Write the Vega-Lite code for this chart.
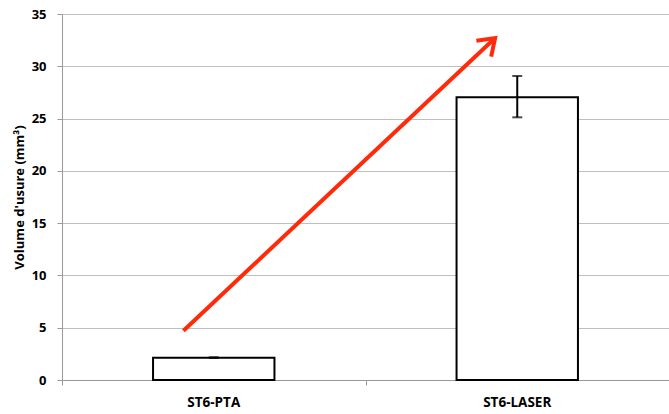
{
  "$schema": "https://vega.github.io/schema/vega-lite/v6.json",
  "width": 607,
  "height": 366,
  "autosize": {"type": "none"},
  "padding": {"left": 62, "top": 14, "right": 0, "bottom": 34},
  "background": "white",
  "config": {
    "view": {"stroke": null},
    "font": "Open Sans"
  },
  "datasets": {
    "bars": [
      {"group": "ST6-PTA", "value": 2.12, "low": 2.12, "high": 2.17},
      {"group": "ST6-LASER", "value": 27.03, "low": 25.12, "high": 29.07}
    ],
    "arrow": [
      {"pos": 0.40, "value": 4.71, "part": "tail"},
      {"pos": 1.427, "value": 32.7, "part": "head"}
    ]
  },
  "resolve": {"scale": {"x": "independent"}, "axis": {"x": "independent"}},
  "layer": [
    {
      "data": {"name": "bars"},
      "layer": [
        {
          "mark": {"type": "bar", "fill": "white", "stroke": "black", "strokeWidth": 2},
          "encoding": {
            "x": {
              "field": "group", "type": "nominal", "sort": null,
              "scale": {"paddingInner": 0.6, "paddingOuter": 0.3},
              "axis": {"title": null, "ticks": false, "domain": false, "labelAngle": 0, "labelFontWeight": "bold", "labelFontSize": 13.5, "labelColor": "black", "labelPadding": 15, "grid": false}
            },
            "y": {
              "field": "value", "type": "quantitative",
              "title": "Volume d'usure (mm³)",
              "scale": {"domain": [0, 35], "nice": false},
              "axis": {
                "values": [0, 5, 10, 15, 20, 25, 30, 35],
                "titleFontSize": 13, "titleFontWeight": "bold", "titleColor": "black", "titlePadding": 5,
                "labelFontSize": 13, "labelFontWeight": "bold", "labelColor": "black", "labelPadding": 11,
                "tickSize": 5, "tickColor": "#999999", "domainColor": "#999999",
                "gridColor": "#bfbfbf", "gridWidth": 1
              }
            }
          }
        },
        {
          "mark": {"type": "errorbar", "color": "black", "thickness": 2, "ticks": {"size": 10}},
          "encoding": {
            "x": {"field": "group", "type": "nominal", "sort": null},
            "y": {"field": "low", "type": "quantitative", "title": "Volume d'usure (mm³)"},
            "y2": {"field": "high"}
          }
        }
      ]
    },
    {
      "data": {"name": "arrow"},
      "layer": [
        {
          "mark": {"type": "line", "color": "#ff2a0a", "strokeWidth": 4, "strokeCap": "butt"},
          "encoding": {
            "x": {
              "field": "pos", "type": "quantitative",
              "scale": {"domain": [0, 2], "nice": false, "zero": false},
              "axis": {"orient": "bottom", "values": [0, 1, 2], "labels": false, "title": null, "grid": false, "tickSize": 5, "tickColor": "#999999", "domainColor": "#999999"}
            },
            "y": {"field": "value", "type": "quantitative", "title": "Volume d'usure (mm³)"}
          }
        },
        {
          "transform": [{"filter": "datum.part === 'head'"}],
          "mark": {"type": "point", "shape": "M-0.7,1 L0,0 L0.7,1", "filled": false, "stroke": "#ff2a0a", "strokeWidth": 4, "strokeJoin": "miter", "angle": 47, "size": 960, "opacity": 1},
          "encoding": {
            "x": {"field": "pos", "type": "quantitative"},
            "y": {"field": "value", "type": "quantitative", "title": "Volume d'usure (mm³)"}
          }
        }
      ]
    }
  ]
}
